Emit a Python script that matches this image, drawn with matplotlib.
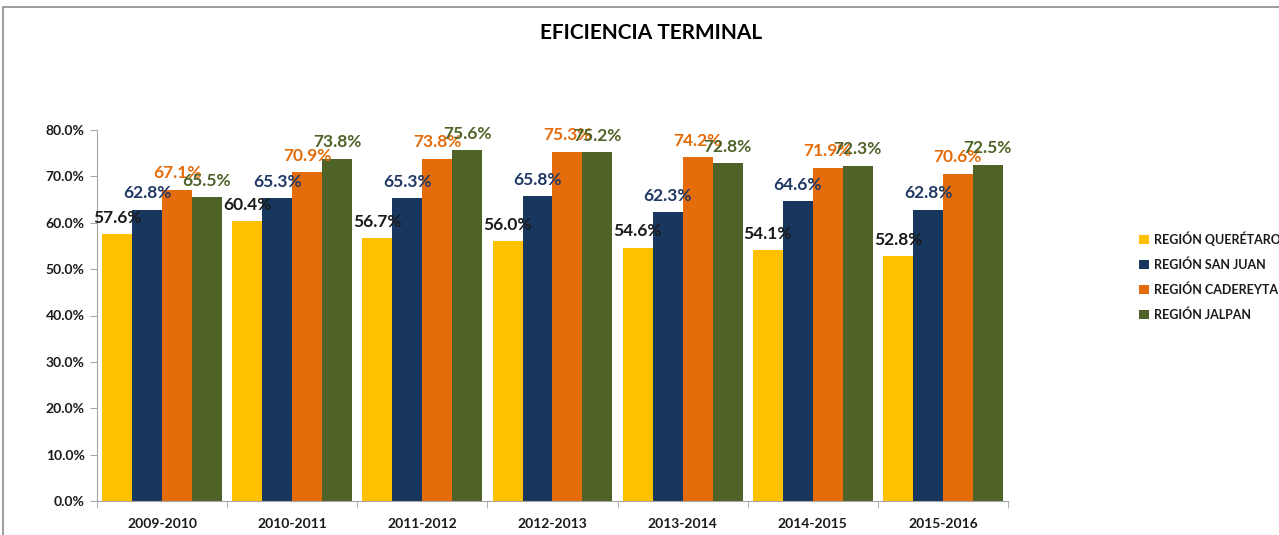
import numpy as np
import matplotlib.pyplot as plt
from matplotlib.patches import Rectangle
from matplotlib.ticker import FuncFormatter

# ciclos escolares
ciclos = ["2009-2010", "2010-2011", "2011-2012", "2012-2013", "2013-2014", "2014-2015", "2015-2016"]
# eficiencia terminal por region (%)
queretaro = [57.6, 60.4, 56.7, 56.0, 54.6, 54.1, 52.8]
san_juan = [62.8, 65.3, 65.3, 65.8, 62.3, 64.6, 62.8]
cadereyta = [67.1, 70.9, 73.8, 75.3, 74.2, 71.9, 70.6]
jalpan = [65.5, 73.8, 75.6, 75.2, 72.8, 72.3, 72.5]

series = [
    ("REGIÓN QUERÉTARO", queretaro, "#FFC000", "#1a1a1a"),
    ("REGIÓN SAN JUAN", san_juan, "#17375E", "#1F3864"),
    ("REGIÓN CADEREYTA", cadereyta, "#E46C0A", "#E46C0A"),
    ("REGIÓN JALPAN", jalpan, "#4F6228", "#4F6228"),
]

plt.rcParams['font.family'] = ['Lato', 'DejaVu Sans']

fig = plt.figure(figsize=(12.79, 5.35), dpi=100)
ax = fig.add_axes([97 / 1279, 1 - 501 / 535, (1008 - 97) / 1279, (501 - 130) / 535])

# marco del grafico
fig.patches.append(Rectangle((3 / 1279, -0.1), 1.2, 1 - 7 / 535 + 0.1, transform=fig.transFigure,
                             fill=False, edgecolor="#8c8c8c", linewidth=1.2))

x = np.arange(len(ciclos))
w = 0.23
for i, (name, vals, color, lcolor) in enumerate(series):
    pos = x + (i - 1.5) * w
    ax.bar(pos, np.array(vals) / 100, width=w, color=color, label=name)
    for px, v in zip(pos, vals):
        ax.annotate(f"{v:.1f}%", (px, v / 100), xytext=(0, 6), textcoords="offset points",
                    ha="center", va="bottom", fontsize=12.5, fontweight="bold", color=lcolor)

ax.set_ylim(0, 0.8)
ax.set_xlim(-0.5, len(ciclos) - 0.5)
ax.set_yticks(np.arange(0, 0.81, 0.1))
ax.yaxis.set_major_formatter(FuncFormatter(lambda v, _: f"{v * 100:.1f}%"))
ax.set_xticks(x)
ax.set_xticklabels(ciclos)
ax.set_xticks(np.arange(-0.5, len(ciclos), 1), minor=True)
ax.tick_params(axis="x", which="major", length=0, pad=12)
ax.tick_params(axis="x", which="minor", length=5, color="#a6a6a6")
ax.tick_params(axis="y", length=5, color="#a6a6a6", pad=4)
for lab in ax.get_xticklabels() + ax.get_yticklabels():
    lab.set_fontweight("bold")
    lab.set_fontsize(10)
    lab.set_color("#1a1a1a")

for s in ["top", "right"]:
    ax.spines[s].set_visible(False)
for s in ["left", "bottom"]:
    ax.spines[s].set_color("#a6a6a6")

fig.text(651 / 1279, 1 - 33 / 535, "EFICIENCIA TERMINAL", ha="center", va="center",
         fontsize=15, fontweight="bold", color="black")

leg = fig.legend(loc="upper left", bbox_to_anchor=(1128 / 1279, 1 - 220 / 535), frameon=False,
                 handlelength=0.8, handleheight=0.8, handletextpad=0.4, labelspacing=1.0,
                 prop={"weight": "bold", "size": 9})
for t in leg.get_texts():
    t.set_color("#1a1a1a")

fig.savefig("out.png", dpi=100)
